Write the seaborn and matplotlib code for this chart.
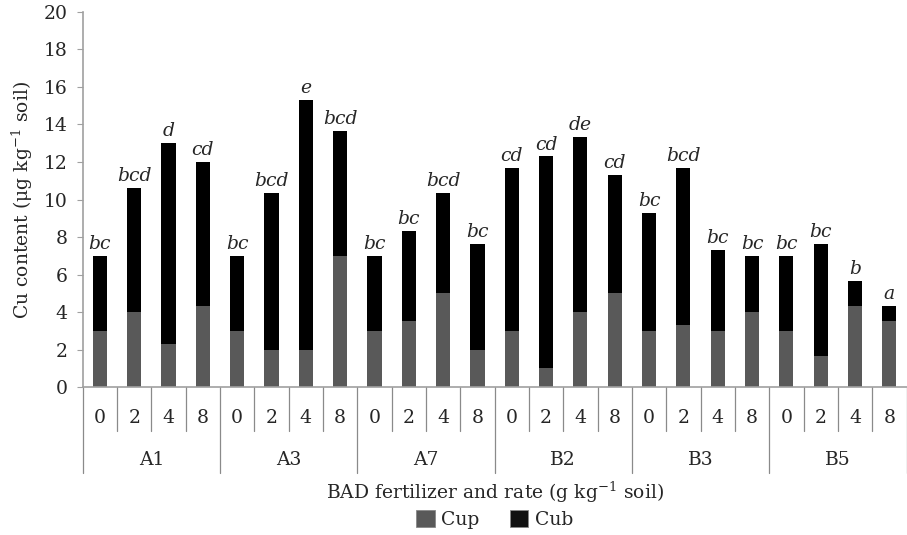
import numpy as np
import pandas as pd
import matplotlib
matplotlib.use("Agg")
import matplotlib.pyplot as plt
from matplotlib.patches import Patch
import seaborn as sns

# ---- data ----
groups = ["A1", "A3", "A7", "B2", "B3", "B5"]
rates = ["0", "2", "4", "8"]
cup = [3.0, 4.0, 2.3, 4.33,
       3.0, 2.0, 2.0, 7.0,
       3.0, 3.5, 5.0, 2.0,
       3.0, 1.0, 4.0, 5.0,
       3.0, 3.3, 3.0, 4.0,
       3.0, 1.65, 4.32, 3.5]
total = [7.0, 10.63, 13.0, 12.0,
         7.0, 10.35, 15.33, 13.65,
         7.0, 8.32, 10.35, 7.63,
         11.68, 12.3, 13.33, 11.33,
         9.3, 11.68, 7.33, 7.0,
         7.0, 7.63, 5.65, 4.32]
letters = ["bc", "bcd", "d", "cd",
           "bc", "bcd", "e", "bcd",
           "bc", "bc", "bcd", "bc",
           "cd", "cd", "de", "cd",
           "bc", "bcd", "bc", "bc",
           "bc", "bc", "b", "a"]
yticks = list(range(0, 21, 2))

labels = [f"{g}-{r}" for g in groups for r in rates]
df = pd.DataFrame({"label": labels, "cup": cup, "total": total, "letter": letters})

sns.set_style("white")
plt.rcParams["font.family"] = ["DejaVu Serif"]
plt.rcParams["mathtext.fontset"] = "dejavuserif"
FS = 13.5

fig = plt.figure(figsize=(9.07, 5.35), dpi=100)
ax = fig.add_axes([0.0912, 0.2766, 0.9083, 0.701])

c_cup = "#595959"
c_cub = "#000000"
sns.barplot(data=df, x="label", y="total", order=labels, color=c_cub,
            width=0.41, saturation=1, ax=ax, linewidth=0)
sns.barplot(data=df, x="label", y="cup", order=labels, color=c_cup,
            width=0.41, saturation=1, ax=ax, linewidth=0)

ax.set_xlim(-0.5, len(labels) - 0.5)
ax.set_ylim(0, 20)
ax.set_yticks(yticks)
ax.set_yticklabels([str(v) for v in yticks], fontsize=FS)
ax.tick_params(axis="y", length=4, width=0.8, color="#a0a0a0", pad=7, left=True)

for s in ["top", "right"]:
    ax.spines[s].set_visible(False)
for s in ["left", "bottom"]:
    ax.spines[s].set_color("#a0a0a0")
    ax.spines[s].set_linewidth(1.2)

# letters above bars
for i, (t, l) in enumerate(zip(total, letters)):
    ax.annotate(l, (i, t), xytext=(0, 2), textcoords="offset points",
                ha="center", va="bottom", fontsize=FS, style="italic")

# multi-level x-axis
ax.set_xticks([])
ax.set_xlabel("")
tr = ax.get_xaxis_transform()
n = len(labels)
for k in range(n + 1):
    x = k - 0.5
    depth = -0.229 if k % 4 == 0 else -0.117
    ax.plot([x, x], [0, depth], transform=tr, color="#8a8a8a", lw=0.9,
            clip_on=False)
for i, lab in enumerate(labels):
    ax.text(i, -0.083, lab.split("-")[1], transform=tr, ha="center",
            va="center", fontsize=FS)
for gi, g in enumerate(groups):
    ax.text(gi * 4 + 1.5, -0.195, g, transform=tr, ha="center", va="center",
            fontsize=FS)

ax.text(0.5, -0.28, r"BAD fertilizer and rate (g kg$^{\mathregular{-1}}$ soil)",
        transform=ax.transAxes, ha="center", va="center", fontsize=FS)
ax.set_ylabel(r"Cu content ($\mathregular{\mu}$g kg$^{\mathregular{-1}}$ soil)",
              fontsize=FS, labelpad=6)

handles = [Patch(facecolor=c_cup, edgecolor="#888888", linewidth=0.6, label="Cup"),
           Patch(facecolor="#111111", edgecolor="#888888", linewidth=0.6, label="Cub")]
ax.legend(handles=handles, loc="center", bbox_to_anchor=(0.5, -0.353),
          ncol=2, frameon=False, fontsize=FS, handlelength=1.0,
          handleheight=1.0, handletextpad=0.35, columnspacing=1.6)

fig.savefig("out.png", dpi=100)
